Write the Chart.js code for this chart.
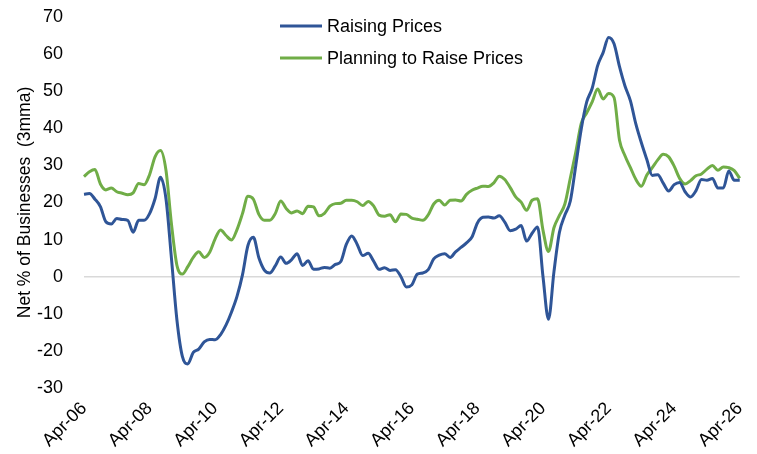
<!DOCTYPE html>
<html>
<head>
<meta charset="utf-8">
<script src="https://cdn.jsdelivr.net/npm/chart.js@4.4.1/dist/chart.umd.min.js"></script>
<style>
    html, body { margin: 0; padding: 0; background: #ffffff; }
    #wrap { width: 757px; height: 454px; position: relative; }
</style>
</head>
<body>
<div id="wrap"><canvas id="price-chart"></canvas></div>
<script>
// Net % of businesses raising / planning to raise prices (3mma), every 2nd month from Apr-06

const months = ['Feb', 'Apr', 'Jun', 'Aug', 'Oct', 'Dec'];

// Apr-06 ... Apr-26, two-month steps
const periods = [];
for (let i = 0; i <= 120; i++) {
    const m = (1 + i) % 6;
    const yr = 6 + Math.floor((1 + i) / 6);
    periods.push(months[m] + '-' + String(yr).padStart(2, '0'));
}

const raisingPrices = [
    22.2, 22.4, 20.9, 18.9, 14.8, 14.2, 15.7, 15.4, 15.2, 12.0,
    15.2, 15.2, 17.0, 21.0, 26.8, 21.0, 5.0, -11.6, -21.5, -23.5,
    -20.4, -19.5, -17.6, -16.9, -17.0, -15.6, -13.0, -9.5, -5.3, 0.5,
    8.4, 10.6, 5.1, 1.8, 1.0, 2.9, 5.3, 3.6, 4.6, 6.2,
    3.0, 4.3, 2.0, 2.1, 2.5, 2.3, 3.3, 4.1, 8.7, 11.0,
    8.7, 5.7, 6.3, 4.2, 2.0, 2.4, 1.7, 1.9, 0.0, -2.8,
    -2.2, 0.7, 1.0, 1.9, 4.8, 5.8, 6.2, 5.2, 6.7, 7.9,
    9.1, 10.7, 14.5, 16.0, 16.1, 15.8, 16.4, 14.7, 12.4, 12.8,
    13.8, 9.6, 11.7, 13.4, 0.0, -11.5, 1.3, 11.9, 16.6, 20.4,
    30.0, 39.8, 47.1, 50.8, 56.9, 60.4, 64.5, 62.8, 56.6, 51.4,
    47.4, 41.1, 36.1, 31.6, 27.3, 27.5, 25.2, 23.1, 24.8, 25.4,
    22.9, 21.5, 23.2, 26.2, 26.0, 26.5, 23.9, 23.9, 28.5, 26.0,
    26.0
];

const planningToRaise = [
    27.0, 28.3, 28.9, 25.0, 23.4, 23.9, 22.9, 22.5, 22.1, 22.6,
    25.1, 24.8, 27.5, 32.3, 34.0, 28.7, 14.3, 3.1, 0.7, 2.7,
    5.2, 6.7, 5.2, 6.6, 10.2, 12.6, 11.1, 9.9, 12.7, 17.0,
    21.7, 20.9, 16.8, 15.2, 15.2, 17.0, 20.4, 18.4, 17.2, 17.7,
    17.0, 19.0, 18.8, 16.4, 17.1, 19.0, 19.7, 19.8, 20.6, 20.6,
    20.2, 19.2, 20.3, 19.1, 16.6, 16.3, 16.7, 14.8, 16.9, 16.8,
    15.8, 15.5, 15.2, 16.7, 19.6, 20.6, 19.3, 20.6, 20.7, 20.4,
    22.2, 23.3, 23.9, 24.4, 24.3, 25.3, 27.1, 26.2, 24.0, 21.5,
    20.1, 17.9, 20.6, 21.0, 12.5, 6.8, 13.2, 16.5, 19.6, 26.6,
    33.6, 41.3, 44.2, 47.1, 50.6, 47.9, 49.4, 48.3, 36.8, 32.6,
    29.4, 26.2, 24.4, 27.4, 29.4, 31.5, 33.0, 32.3, 29.8, 26.5,
    25.0, 25.9, 27.2, 27.7, 29.0, 30.0, 28.7, 29.6, 29.4, 28.6,
    26.5
];

const yTicks = { min: -30, max: 70, step: 10 };

const colors = {
    blue: '#2f5597',
    green: '#70ad47',
    text: '#000000',
    zero: '#d9d9d9'
};

const font = "'Liberation Sans', Arial, sans-serif";

// stacked legend drawn inside the plot, top middle
const stackedLegend = {
    id: 'stackedLegend',
    afterDraw(chart) {
        const ctx = chart.ctx;
        const x0 = 280, y0 = 26, gap = 32, len = 42;
        ctx.save();
        ctx.font = '18px ' + font;
        ctx.textBaseline = 'middle';
        chart.data.datasets.forEach((ds, i) => {
            const y = y0 + i * gap;
            ctx.strokeStyle = ds.borderColor;
            ctx.lineWidth = 3;
            ctx.beginPath();
            ctx.moveTo(x0, y);
            ctx.lineTo(x0 + len, y);
            ctx.stroke();
            ctx.fillStyle = colors.text;
            ctx.fillText(ds.label, x0 + len + 5, y + 1);
        });
        ctx.restore();
    }
};

document.addEventListener('DOMContentLoaded', () => {
    Chart.defaults.font.family = font;
    Chart.defaults.font.size = 18;
    Chart.defaults.color = colors.text;

    new Chart(document.getElementById('price-chart'), {
        type: 'line',
        data: {
            labels: periods,
            datasets: [
                {
                    label: 'Raising Prices',
                    data: raisingPrices,
                    borderColor: colors.blue,
                    backgroundColor: colors.blue,
                    borderWidth: 3,
                    pointRadius: 0,
                    cubicInterpolationMode: 'monotone'
                },
                {
                    label: 'Planning to Raise Prices',
                    data: planningToRaise,
                    borderColor: colors.green,
                    backgroundColor: colors.green,
                    borderWidth: 3,
                    pointRadius: 0,
                    cubicInterpolationMode: 'monotone'
                }
            ]
        },
        options: {
            responsive: true,
            maintainAspectRatio: false,
            animation: false,
            layout: {
                padding: { left: 15, right: 12, top: 17, bottom: 0 }
            },
            plugins: {
                legend: { display: false },
                tooltip: { enabled: false }
            },
            scales: {
                x: {
                    grid: { display: false },
                    border: { display: false },
                    afterFit: (scale) => {
                        scale.paddingLeft = 0;
                        scale.height = 66;
                    },
                    ticks: {
                        autoSkip: false,
                        minRotation: 45,
                        maxRotation: 45,
                        padding: 2,
                        callback: function (value, index) {
                            return index % 12 === 0 ? this.getLabelForValue(value) : null;
                        }
                    }
                },
                y: {
                    min: yTicks.min,
                    max: yTicks.max,
                    border: { display: false },
                    afterFit: (scale) => {
                        scale.width = 69;
                        scale.paddingTop = 0;
                        scale.paddingBottom = 0;
                    },
                    grid: {
                        drawTicks: false,
                        lineWidth: 1.5,
                        color: (c) => (c.tick && c.tick.value === 0 ? colors.zero : 'rgba(0,0,0,0)')
                    },
                    ticks: {
                        stepSize: yTicks.step,
                        padding: 21
                    },
                    title: {
                        display: true,
                        text: 'Net % of Businesses  (3mma)',
                        font: { size: 17.5 },
                        padding: 0
                    }
                }
            }
        },
        plugins: [stackedLegend]
    });
});
</script>
</body>
</html>
